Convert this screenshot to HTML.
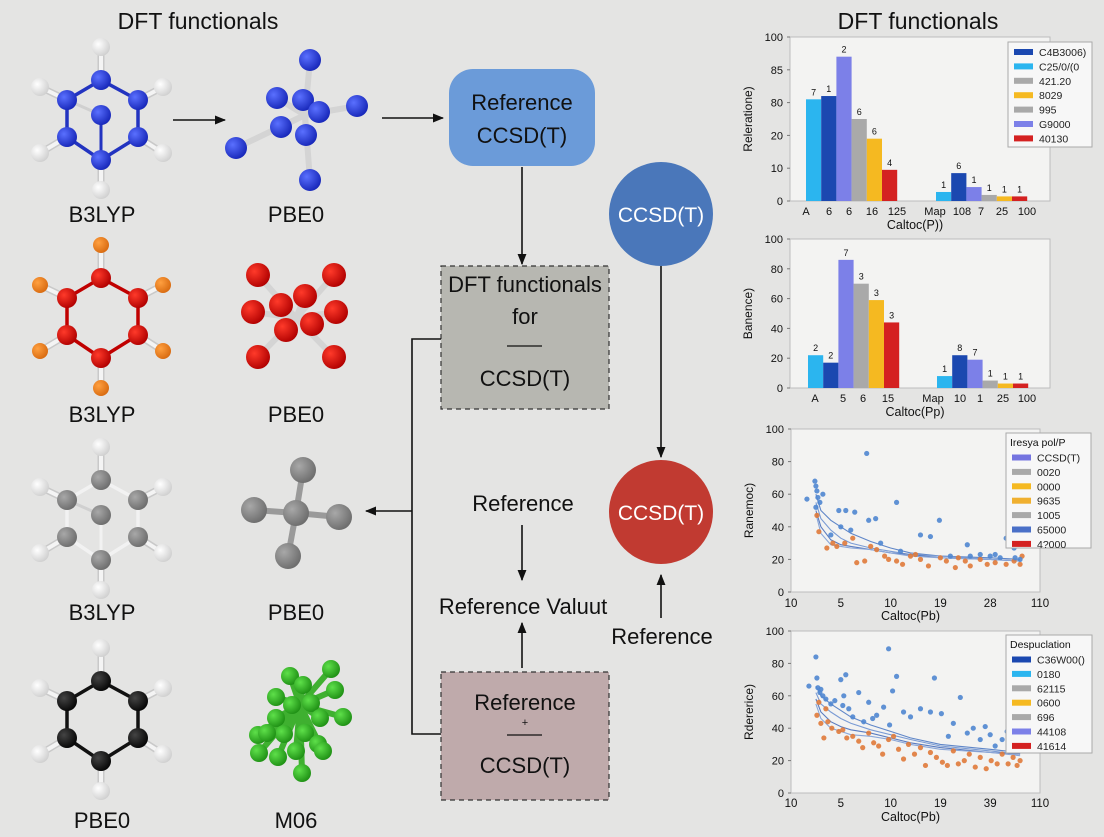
<!DOCTYPE html>
<html><head><meta charset="utf-8">
<style>
html,body{margin:0;padding:0;background:#e4e4e3;}
body{width:1104px;height:832px;overflow:hidden;font-family:"Liberation Sans","DejaVu Sans",sans-serif;}
svg text{font-family:"Liberation Sans","DejaVu Sans",sans-serif;}
</style></head>
<body>
<svg id="main" width="1104" height="832" viewBox="0 0 1104 832" xmlns="http://www.w3.org/2000/svg">
<defs>
<marker id="ah" viewBox="0 0 10 10" refX="9" refY="5" markerWidth="7" markerHeight="7" orient="auto-start-reverse"><path d="M0,1 L10,5 L0,9 z" fill="#111"/></marker>
<radialGradient id="gBlue" cx="35%" cy="35%" r="70%"><stop offset="0" stop-color="#5a70ff"/><stop offset="1" stop-color="#1626b8"/></radialGradient>
<radialGradient id="gRed" cx="35%" cy="35%" r="70%"><stop offset="0" stop-color="#ff3a2a"/><stop offset="1" stop-color="#b00000"/></radialGradient>
<radialGradient id="gOrange" cx="35%" cy="35%" r="70%"><stop offset="0" stop-color="#ffa040"/><stop offset="1" stop-color="#d86a10"/></radialGradient>
<radialGradient id="gGray" cx="35%" cy="35%" r="70%"><stop offset="0" stop-color="#a8a8a8"/><stop offset="1" stop-color="#6c6c6c"/></radialGradient>
<radialGradient id="gBlack" cx="35%" cy="35%" r="70%"><stop offset="0" stop-color="#444"/><stop offset="1" stop-color="#050505"/></radialGradient>
<radialGradient id="gWhite" cx="35%" cy="35%" r="70%"><stop offset="0" stop-color="#ffffff"/><stop offset="1" stop-color="#cfcfcf"/></radialGradient>
<radialGradient id="gGreen" cx="35%" cy="35%" r="70%"><stop offset="0" stop-color="#5ee04a"/><stop offset="1" stop-color="#1e8f14"/></radialGradient>
</defs>

<text x="198" y="29" font-size="23" text-anchor="middle" fill="#111">DFT functionals</text>
<text x="918" y="29" font-size="23" text-anchor="middle" fill="#111">DFT functionals</text>

<g id="mols"></g>

<g font-size="22" fill="#111" text-anchor="middle">
<text x="102" y="222">B3LYP</text>
<text x="296" y="222">PBE0</text>
<text x="102" y="422">B3LYP</text>
<text x="296" y="422">PBE0</text>
<text x="102" y="620">B3LYP</text>
<text x="296" y="620">PBE0</text>
<text x="102" y="828">PBE0</text>
<text x="296" y="828">M06</text>
</g>

<g stroke="#111" stroke-width="1.6" fill="none">
<line x1="173" y1="120" x2="225" y2="120" marker-end="url(#ah)"/>
<line x1="382" y1="118" x2="443" y2="118" marker-end="url(#ah)"/>
</g>

<g>
<rect x="449" y="69" width="146" height="97" rx="24" fill="#6b9bd9"/>
<text x="522" y="110" font-size="22" text-anchor="middle" fill="#111">Reference</text>
<text x="522" y="143" font-size="22" text-anchor="middle" fill="#111">CCSD(T)</text>
<line x1="522" y1="167" x2="522" y2="264" stroke="#111" stroke-width="1.6" marker-end="url(#ah)"/>

<rect x="441" y="266" width="168" height="143" fill="#b7b7b1" stroke="#333" stroke-width="1.2" stroke-dasharray="5,4"/>
<text x="525" y="292" font-size="22" text-anchor="middle" fill="#111">DFT functionals</text>
<text x="525" y="324" font-size="22" text-anchor="middle" fill="#111">for</text>
<line x1="507" y1="346" x2="542" y2="346" stroke="#111" stroke-width="1.2"/>
<text x="525" y="386" font-size="22" text-anchor="middle" fill="#111">CCSD(T)</text>

<circle cx="661" cy="214" r="52" fill="#4a77ba"/>
<text x="661" y="222" font-size="21" text-anchor="middle" fill="#fff">CCSD(T)</text>
<line x1="661" y1="266" x2="661" y2="457" stroke="#111" stroke-width="1.6" marker-end="url(#ah)"/>
<circle cx="661" cy="512" r="52" fill="#c13a31"/>
<text x="661" y="520" font-size="21" text-anchor="middle" fill="#fff">CCSD(T)</text>

<polyline points="441,339 412,339 412,734 441,734" fill="none" stroke="#111" stroke-width="1.6"/>
<line x1="412" y1="511" x2="366" y2="511" stroke="#111" stroke-width="1.6" marker-end="url(#ah)"/>

<text x="523" y="511" font-size="22" text-anchor="middle" fill="#111">Reference</text>
<line x1="522" y1="525" x2="522" y2="580" stroke="#111" stroke-width="1.6" marker-end="url(#ah)"/>
<text x="523" y="614" font-size="22" text-anchor="middle" fill="#111">Reference Valuut</text>
<line x1="522" y1="668" x2="522" y2="623" stroke="#111" stroke-width="1.6" marker-end="url(#ah)"/>
<text x="662" y="644" font-size="22" text-anchor="middle" fill="#111">Reference</text>
<line x1="661" y1="618" x2="661" y2="575" stroke="#111" stroke-width="1.6" marker-end="url(#ah)"/>

<rect x="441" y="672" width="168" height="128" fill="#bfaaab" stroke="#333" stroke-width="1.2" stroke-dasharray="5,4"/>
<text x="525" y="710" font-size="22" text-anchor="middle" fill="#111">Reference</text>
<text x="525" y="726" font-size="11" text-anchor="middle" fill="#111">+</text>
<line x1="507" y1="735" x2="542" y2="735" stroke="#111" stroke-width="1.2"/>
<text x="525" y="773" font-size="22" text-anchor="middle" fill="#111">CCSD(T)</text>
</g>

<g id="charts"></g>
</svg>

<script>
// ---------- chart data ----------
var barColors = ["#2bb5ef","#1b48b0","#7c80e8","#a9a9a9","#f5b921","#d42121"];
var bar1Group1 = [62,64,88,50,38,19];
var bar1Group2 = [5.5,17,8.5,3.7,2.8,2.8];
var bar1Annot1 = ["7","1","2","6","6","4"];
var bar1Annot2 = ["1","6","1","1","1","1"];
var bar1TickLabels = ["A","6","6","16","125","Map","108","7","25","100"];
var bar1YTicks = ["0","10","20","80","85","100"];
var bar1Legend = ["C4B3006)","C25/0/(0","421.20","8029","995","G9000","40130"];
var bar1LegendColors = ["#1b48b0","#2bb5ef","#a9a9a9","#f5b921","#a9a9a9","#7c80e8","#d42121"];

var bar2Group1 = [22,17,86,70,59,44];
var bar2Group2 = [8,22,19,5,3,3];
var bar2Annot1 = ["2","2","7","3","3","3"];
var bar2Annot2 = ["1","8","7","1","1","1"];
var bar2TickLabels = ["A","5","6","15","Map","10","1","25","100"];
var bar2YTicks = ["0","20","40","60","80","100"];

var scatXTicks = ["10","5","10","19","28","110"];
var scat4XTicks = ["10","5","10","19","39","110"];
var scatYTicks = ["0","20","40","60","80","100"];

var s3BlueX = [1.6,2.4,2.5,2.6,2.5,3.2,4.8,5.5,6.4,7.6,7.8,8.5,10.6,13,14,14.9,17.7,21.6,22.4,19,20,21,22.5,23,4,5,6,9,11,16,18,20.5,2.7,2.9];
var s3BlueY = [57,68,65,62,52,60,50,50,49,85,44,45,55,35,34,44,29,33,27,23,22,21,21,20,35,40,38,30,25,22,22,23,58,55];
var s3OrangeX = [2.8,3.6,4.6,5.4,6.2,6.6,7.4,8.6,9.4,9.8,10.6,11.2,12,13,13.8,15,15.6,16.5,17.5,18,19,19.7,20.5,21.6,22.4,23,12.5,8,16.8,23.2,2.6,4.2];
var s3OrangeY = [37,27,28,30,33,18,19,26,22,20,19,17,22,20,16,21,19,15,19,16,20,17,18,17,19,17,23,28,21,22,47,30];
var s3CurveX = [2.5,3,4,5,6,8,10,12,15,20,23];
var s3Curve1 = [60,50,44,40,36,31,27,24,22,21,20];
var s3Curve2 = [55,45,38,33,30,27,25,23,22,20,19];
var s3Curve3 = [50,40,32,29,28,26,24,23,21,20,19];
var s3Curve4 = [48,36,29,28,27,26,24,22,21,20,19];
var s3Legend = ["CCSD(T)","0020","0000","9635","1005","65000","4?000"];
var s3LegendColors = ["#7474e0","#a9a9a9","#f5b921","#f0b030","#a9a9a9","#4a70c8","#d42121"];

var s4BlueX = [1.8,2.5,2.6,2.7,2.9,3.2,3.5,4,4.4,5,5.3,5.5,5.8,6.2,6.8,7.3,7.8,8.2,8.6,9.3,9.8,10.2,10.6,11.3,12,13,14,14.4,15.1,15.8,16.3,17,17.7,18.3,19,19.5,20,20.5,21.2,21.7,22.2,22.6,23.3,5.2,9.9,3];
var s4BlueY = [66,84,71,65,62,60,58,55,57,70,60,73,52,47,62,44,56,46,48,53,89,63,72,50,47,52,50,71,49,35,43,59,37,40,33,41,36,29,33,38,30,40,26,54,42,64];
var s4OrangeX = [2.6,3,3.3,3.7,4.1,4.8,5.2,5.6,6.2,6.8,7.2,7.8,8.3,8.8,9.2,9.8,10.3,10.8,11.3,11.8,12.4,13,13.5,14,14.6,15.2,15.7,16.3,16.8,17.4,17.9,18.5,19,19.6,20.1,20.7,21.2,21.8,22.3,22.7,23,2.8,3.5];
var s4OrangeY = [48,43,34,44,40,38,39,34,35,32,28,37,31,29,24,33,35,27,21,30,24,28,17,25,22,19,17,26,18,20,24,16,22,15,20,18,24,18,22,17,20,56,52];
var s4CurveX = [2.5,3,4,5,6,8,10,12,15,20,23];
var s4Curve1 = [66,60,55,51,47,42,38,34,30,27,25];
var s4Curve2 = [62,55,50,46,43,39,36,33,29,26,24];
var s4Curve3 = [58,50,44,41,39,37,34,31,28,25,24];
var s4Curve4 = [55,46,40,38,36,35,33,30,27,25,23];
var s4Legend = ["C36W00()","0180","62115","0600","696","44108","41614"];
var s4LegendColors = ["#1b48b0","#2bb5ef","#a9a9a9","#f5b921","#a9a9a9","#7c80e8","#d42121"];

var NS = "http://www.w3.org/2000/svg";
function mk(parent, tag, attrs) {
  var e = document.createElementNS(NS, tag);
  for (var k in attrs) e.setAttribute(k, attrs[k]);
  parent.appendChild(e);
  return e;
}
var charts = document.getElementById('charts');

function frame(g, L, T, R, B, yTicks, yTitle, xTitle, xTitleY) {
  var bg = mk(g, 'rect', {x:L, y:T, width:R-L, height:B-T, fill:'#f3f3f2', stroke:'#bdbdbd', 'stroke-width':1});
  
  
  for (var i = 0; i < yTicks.length; i++) {
    var y = B - (B - T) * i / (yTicks.length - 1);
    var t = mk(g, 'text', {x:L-7, y:y+4, 'font-size':11, 'text-anchor':'end', fill:'#111'});
    t.textContent = yTicks[i];
    
    
    var tk = mk(g, 'line', {x1:L-3, y1:y, x2:L, y2:y, stroke:'#777'});
    
    
  }
  var yt = mk(g, 'text', {x:0, y:0, 'font-size':12, 'text-anchor':'middle', fill:'#111', transform:'translate('+(L-38)+','+((T+B)/2)+') rotate(-90)'});
  yt.textContent = yTitle;
  
  
  var xt = mk(g, 'text', {x:(L+R)/2 - 5, y:xTitleY, 'font-size':12.5, 'text-anchor':'middle', fill:'#111'});
  xt.textContent = xTitle;
  
  
}

function legend(g, x, y, w, h, title, labels, colors) {
  var box = mk(g, 'rect', {x:x, y:y, width:w, height:h, fill:'#f7f7f7', stroke:'#aaa'});
  
  
  var y0 = y + 10;
  if (title) {
    var tt = mk(g, 'text', {x:x+4, y:y0+3, 'font-size':10.5, fill:'#111'});
    tt.textContent = title;
    
    
    y0 += 14.5;
  }
  for (var i = 0; i < labels.length; i++) {
    var yy = y0 + i * 14.4;
    var sw = mk(g, 'rect', {x:x+6, y:yy-3, width:19, height:6, fill:colors[i]});
    
    
    var tx = mk(g, 'text', {x:x+31, y:yy+4, 'font-size':10.5, fill:'#222'});
    tx.textContent = labels[i];
    
    
  }
}

function barChart(name, L, T, R, B, g1, g2, a1, a2, g1Start, g2Start, barW, tickLabels, tickX, yTicks, yTitle, xTitle, tickY, xTitleY) {
  var g = mk(charts, 'g', {});
  
  
  frame(g, L, T, R, B, yTicks, yTitle, xTitle, xTitleY);
  var ys = function(v){ return B - (B - T) * v / 100; };
  var groups = [[g1, a1, g1Start], [g2, a2, g2Start]];
  for (var gi = 0; gi < 2; gi++) {
    var vals = groups[gi][0], ann = groups[gi][1], x0 = groups[gi][2];
    for (var i = 0; i < vals.length; i++) {
      var x = x0 + i * barW;
      var r = mk(g, 'rect', {x:x, y:ys(vals[i]), width:barW, height:B - ys(vals[i]), fill:barColors[i]});
      
      
      var t = mk(g, 'text', {x:x+barW/2, y:ys(vals[i])-4, 'font-size':9, 'text-anchor':'middle', fill:'#111'});
      t.textContent = ann[i];
      
      
    }
  }
  for (var k = 0; k < tickLabels.length; k++) {
    var tl = mk(g, 'text', {x:tickX[k], y:tickY, 'font-size':11, 'text-anchor':'middle', fill:'#111'});
    tl.textContent = tickLabels[k];
    
    
  }
  return g;
}

var c1 = barChart('bar-chart-top', 790, 37, 1050, 201, bar1Group1, bar1Group2, bar1Annot1, bar1Annot2, 806, 936, 15.2,
  bar1TickLabels, [806,829,849,872,897,935,962,981,1002,1027], bar1YTicks, 'Releratione)', 'Caltoc(P))', 215, 229);
legend(c1, 1008, 42, 84, 105, null, bar1Legend, bar1LegendColors);

var c2 = barChart('bar-chart-second', 790, 239, 1050, 388, bar2Group1, bar2Group2, bar2Annot1, bar2Annot2, 808, 937, 15.2,
  bar2TickLabels, [815,843,863,888,933,960,980,1003,1027], bar2YTicks, 'Banence)', 'Caltoc(Pp)', 402, 416);

function scatter(name, L, T, R, B, bx, by, ox, oy, cx, curves, xTicks, yTitle, tickY, xTitleY) {
  var g = mk(charts, 'g', {});
  
  
  frame(g, L, T, R, B, scatYTicks, yTitle, 'Caltoc(Pb)', xTitleY);
  var xs = function(v){ return L + (R - L) * v / 25; };
  var ys = function(v){ return B - (B - T) * v / 100; };
  for (var i = 0; i < xTicks.length; i++) {
    var t = mk(g, 'text', {x:xs(i*5), y:tickY, 'font-size':11.5, 'text-anchor':'middle', fill:'#111'});
    t.textContent = xTicks[i];
    
    
  }
  var curveColors = ['#5f86c8','#7a9bd4','#5a7cc0','#8aa6d8'];
  for (var c = 0; c < curves.length; c++) {
    var pts = cx.map(function(v, j){ return xs(v).toFixed(1) + ',' + ys(curves[c][j]).toFixed(1); }).join(' ');
    var pl = mk(g, 'polyline', {points:pts, fill:'none', stroke:curveColors[c], 'stroke-width':1.1});
    
    
  }
  for (var k = 0; k < ox.length; k++) {
    var p = mk(g, 'circle', {cx:xs(ox[k]), cy:ys(oy[k]), r:2.6, fill:'#e07a3a', 'fill-opacity':0.9});
    
    
  }
  for (var m = 0; m < bx.length; m++) {
    var q = mk(g, 'circle', {cx:xs(bx[m]), cy:ys(by[m]), r:2.6, fill:'#4f86d0', 'fill-opacity':0.9});
    
    
  }
  return g;
}
var c3 = scatter('scatter-chart-third', 791, 429, 1040, 592, s3BlueX, s3BlueY, s3OrangeX, s3OrangeY, s3CurveX,
  [s3Curve1, s3Curve2, s3Curve3, s3Curve4], scatXTicks, 'Ranemoc)', 607, 620);
legend(c3, 1006, 433, 85, 115, 'Iresya pol/P', s3Legend, s3LegendColors);
var c4 = scatter('scatter-chart-bottom', 791, 631, 1040, 793, s4BlueX, s4BlueY, s4OrangeX, s4OrangeY, s4CurveX,
  [s4Curve1, s4Curve2, s4Curve3, s4Curve4], scat4XTicks, 'Rdererice)', 807, 821);
legend(c4, 1006, 635, 86, 118, 'Despuclation', s4Legend, s4LegendColors);

// ---------- molecules ----------
var mols = document.getElementById('mols');
var ringOff = [[0,-40],[-34,-20],[37,-20],[-34,17],[37,17],[0,40]];
var hOff = [[0,-73],[-61,-33],[62,-33],[-61,33],[62,33],[0,70]];
function hexMol(name, cx, cy, ringFill, bondColor, hFill, hR, centerAtom) {
  var g = mk(mols, 'g', {});
  
  
  for (var i = 0; i < 6; i++) {
    var b = mk(g, 'line', {x1:cx+ringOff[i][0], y1:cy+ringOff[i][1], x2:cx+hOff[i][0], y2:cy+hOff[i][1], stroke:'#c9c9c9', 'stroke-width':7});
    
    
    var b2 = mk(g, 'line', {x1:cx+ringOff[i][0], y1:cy+ringOff[i][1], x2:cx+hOff[i][0], y2:cy+hOff[i][1], stroke:'#f4f4f4', 'stroke-width':4});
    
    
  }
  var order = [0,2,4,5,3,1,0];
  for (var j = 0; j < 6; j++) {
    var a = ringOff[order[j]], c = ringOff[order[j+1]];
    var rb = mk(g, 'line', {x1:cx+a[0], y1:cy+a[1], x2:cx+c[0], y2:cy+c[1], stroke:bondColor, 'stroke-width':3.5});
    
    
  }
  if (centerAtom) {
    var cb = mk(g, 'line', {x1:cx, y1:cy-5, x2:cx, y2:cy+40, stroke:bondColor, 'stroke-width':3});
    
    
    var cb2 = mk(g, 'line', {x1:cx-34, y1:cy-20, x2:cx, y2:cy-5, stroke:'#d0d0d0', 'stroke-width':3});
    
    
  }
  for (var k = 0; k < 6; k++) {
    var h = mk(g, 'circle', {cx:cx+hOff[k][0], cy:cy+hOff[k][1], r:hR, fill:hFill});
    
    
  }
  for (var m = 0; m < 6; m++) {
    var at = mk(g, 'circle', {cx:cx+ringOff[m][0], cy:cy+ringOff[m][1], r:10, fill:ringFill});
    
    
  }
  if (centerAtom) {
    var ca = mk(g, 'circle', {cx:cx, cy:cy-5, r:10, fill:ringFill});
    
    
  }
}
hexMol('b3lyp-molecule-blue', 101, 120, 'url(#gBlue)', '#2233c0', 'url(#gWhite)', 9, true);
hexMol('b3lyp-molecule-red', 101, 318, 'url(#gRed)', '#c00000', 'url(#gOrange)', 8, false);
hexMol('b3lyp-molecule-gray', 101, 520, 'url(#gGray)', '#f2f2f2', 'url(#gWhite)', 9, true);
hexMol('pbe0-molecule-black', 101, 721, 'url(#gBlack)', '#111', 'url(#gWhite)', 9, false);

function cluster(name, center, atoms, fill, r, bondColor) {
  var g = mk(mols, 'g', {});
  
  
  for (var i = 0; i < atoms.length; i++) {
    var b = mk(g, 'line', {x1:center[0], y1:center[1], x2:atoms[i][0], y2:atoms[i][1], stroke:bondColor, 'stroke-width':6});
    
    
  }
  for (var j = 0; j < atoms.length; j++) {
    var a = mk(g, 'circle', {cx:atoms[j][0], cy:atoms[j][1], r:r, fill:fill});
    
    
  }
}
cluster('pbe0-molecule-blue', [305,115], [[310,60],[236,148],[357,106],[310,180],[277,98],[303,100],[319,112],[281,127],[306,135]], 'url(#gBlue)', 11, '#d4d4d4');
cluster('pbe0-molecule-red', [296,318], [[258,275],[334,275],[258,357],[334,357],[253,312],[336,312],[281,305],[305,296],[286,330],[312,324]], 'url(#gRed)', 12, '#d4d4d4');
cluster('pbe0-molecule-gray', [296,513], [[303,470],[254,510],[339,517],[288,556],[296,513]], 'url(#gGray)', 13, '#9a9a9a');
cluster('m06-molecule-green', [300,705], [[290,676],[303,685],[331,669],[335,690],[276,697],[292,705],[311,703],[343,717],[276,718],[320,718],[258,735],[284,734],[305,733],[318,744],[259,753],[278,757],[296,751],[323,751],[302,773],[267,733]], 'url(#gGreen)', 9, '#3fb030');
</script>
</body></html>
